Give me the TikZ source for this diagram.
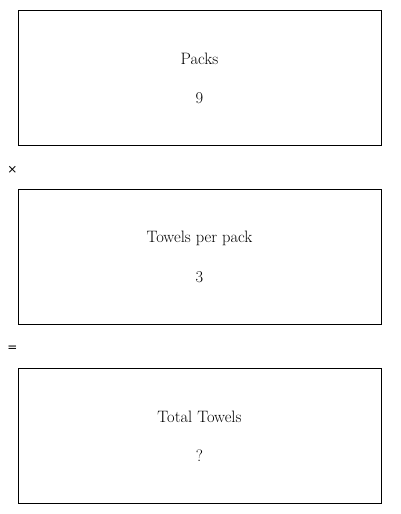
\documentclass[tikz,border=0pt]{standalone}
\usepackage{fontspec}
\newfontfamily\symfont{DejaVu Sans}
\begin{document}
\begin{tikzpicture}[x=1pt,y=-1pt,
  box/.style={draw=black,line width=0.9pt,minimum width=363pt,minimum height=135pt,inner sep=0pt,anchor=north west},
  lbl/.style={font=\fontsize{16.5}{19}\selectfont,anchor=center},
  op/.style={font=\symfont\fontsize{12}{14}\selectfont,anchor=center}]
\useasboundingbox (0,0) rectangle (400,514);
\node[box] (b1) at (17.8,9.8) {};
\node[box] (b2) at (17.8,188.8) {};
\node[box] (b3) at (17.8,367.8) {};
\node[lbl] (t1) at (199.5,59) {Packs};
\node[lbl] (v1) at (199.5,98) {9};
\node[lbl] (t2) at (199.5,238) {Towels per pack};
\node[lbl] (v2) at (199.5,277) {3};
\node[lbl] (t3) at (199.5,417) {Total Towels};
\node[lbl] (v3) at (199.5,456) {?};
\node[op] (m) at (12.5,170) {×};
\node[op] (e) at (12.5,349) {=};
\end{tikzpicture}
\end{document}
